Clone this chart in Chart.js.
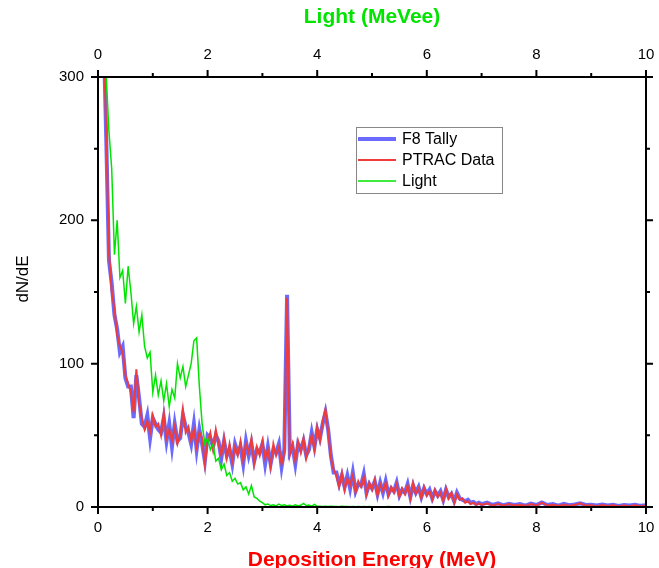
<!DOCTYPE html>
<html lang="en">
<head>
<meta charset="UTF-8">
<title>Deposition spectrum</title>
<script src="https://cdn.jsdelivr.net/npm/chart.js"></script>
<style>
  html, body { margin: 0; padding: 0; background: #fff; }
</style>
</head>
<body>
<canvas id="myChart" width="659" height="568"></canvas>
<script>
// bin centres (MeV for the two simulated series, MeVee for the light series)
const energy = [
  0.10,0.15,0.20,0.25,0.30,0.35,0.40,0.45,0.50,0.55,
  0.60,0.65,0.70,0.75,0.80,0.85,0.90,0.95,1.00,1.05,
  1.10,1.15,1.20,1.25,1.30,1.35,1.40,1.45,1.50,1.55,
  1.60,1.65,1.70,1.75,1.80,1.85,1.90,1.95,2.00,2.05,
  2.10,2.15,2.20,2.25,2.30,2.35,2.40,2.45,2.50,2.55,
  2.60,2.65,2.70,2.75,2.80,2.85,2.90,2.95,3.00,3.05,
  3.10,3.15,3.20,3.25,3.30,3.35,3.40,3.45,3.50,3.55,
  3.60,3.65,3.70,3.75,3.80,3.85,3.90,3.95,4.00,4.05,
  4.10,4.15,4.20,4.25,4.30,4.35,4.40,4.45,4.50,4.55,
  4.60,4.65,4.70,4.75,4.80,4.85,4.90,4.95,5.00,5.05,
  5.10,5.15,5.20,5.25,5.30,5.35,5.40,5.45,5.50,5.55,
  5.60,5.65,5.70,5.75,5.80,5.85,5.90,5.95,6.00,6.05,
  6.10,6.15,6.20,6.25,6.30,6.35,6.40,6.45,6.50,6.55,
  6.60,6.65,6.70,6.75,6.80,6.85,6.90,6.95,7.00,7.10,
  7.20,7.30,7.40,7.50,7.60,7.70,7.80,7.90,8.00,8.10,
  8.20,8.30,8.40,8.50,8.60,8.70,8.80,8.90,9.00,9.10,
  9.20,9.30,9.40,9.50,9.60,9.70,9.80,9.90,10.00
];

const f8Tally = [
  335,258,172,156,134,124,108,112,90,84,
  84,62,92,76,58,56,64,48,62,58,
  54,52,62,46,58,42,58,46,48,64,
  56,52,44,58,40,54,44,32,50,48,
  42,50,46,34,46,36,40,30,44,38,
  42,30,46,36,44,32,40,38,44,30,
  42,30,40,38,44,28,40,148,38,42,
  30,44,40,46,36,40,52,42,54,48,
  58,66,54,36,24,24,16,22,14,22,
  13,24,11,16,15,23,10,16,13,18,
  9,17,10,18,9,13,11,17,8,12,
  10,16,7,15,10,14,7,13,9,12,
  6,11,8,11,5,12,7,9,4,10,
  6,5,4,5,3,3.5,2,3,2,3,
  1.5,2.5,1.2,2.2,1.4,2,1,2.4,1.4,3.2,
  1.4,2,1,2.2,1.2,1.8,2.6,1.4,1.6,1,
  1.8,1,1.6,0.8,1.4,1,1.6,0.8,1.2
];

const ptracData = [
  330,262,178,150,138,120,112,108,92,86,
  80,66,96,72,62,54,60,52,64,56,
  58,50,66,48,54,46,56,44,50,68,
  52,56,46,54,42,52,48,30,46,52,
  40,54,44,36,48,34,44,32,42,36,
  46,32,44,38,48,30,42,36,46,34,
  40,28,44,36,42,30,38,146,36,44,
  32,46,38,48,34,42,50,40,56,46,
  60,68,52,34,26,22,14,24,12,20,
  15,22,10,18,14,21,9,17,12,19,
  8,16,11,17,8,14,10,16,7,13,
  9,15,6,17,9,13,6,14,8,11,
  5,12,7,10,4,13,6,10,3,9,
  5,6,3,4,2,3,1.5,2.5,1.5,2.5,
  1,2,1,2,1,1.5,0.8,2,1,3,
  1,1.5,0.8,1.8,0.8,1.5,2.5,1,1.2,0.6,
  1.4,0.7,1.2,0.5,1,0.6,1.2,0.5,0.8
];

const light = [
  340,300,262,236,176,200,160,165,142,168,
  150,128,140,122,134,112,104,108,80,92,
  78,88,74,86,70,82,76,100,90,98,
  84,92,100,116,118,84,58,44,48,40,
  44,32,34,26,30,22,24,18,20,16,
  17,12,14,9,15,7,6,4,3,1.5,
  2,1,1.5,0.8,2,1,1.5,0.8,1.2,0.6,
  1.5,0.8,1.2,2.5,1,1.4,0.6,1.8,0.5,0.6,
  0.4,0.5,0.3,0.6,0.3,0.4,0.2,0.5,0.3,0.4,
  0.2,0.3,0.2,0.4,0.2,0.3,0.1,0.3,0.2,0.2,
  0.2,0.1,0.2,0.1,0.3,0.1,0.2,0.1,0.2,0.1,
  0.1,0.2,0.1,0.1,0.2,0.1,0.1,0.2,0.1,0.1,
  0.1,0.1,0.2,0.1,0.1,0.1,0.2,0.1,0.1,0.1,
  0.1,0.1,0.1,0.2,0.1,0.1,0.1,0.1,0.1,0.1,
  0.1,0.1,0.1,0.1,0.1,0.1,0.1,0.1,0.1,0.1,
  0.1,0.1,0.1,0.1,0.1,0.1,0.1,0.1,0.1,0.1,
  0.1,0.1,0.1,0.1,0.1,0.1,0.1,0.1,0.1
];

const majorX = [0, 2, 4, 6, 8, 10];
const minorX = [1, 3, 5, 7, 9];
const majorY = [0, 100, 200, 300];
const minorY = [50, 150, 250];

const FONT = '"Liberation Sans", Arial, sans-serif';
Chart.defaults.font.family = FONT;
Chart.defaults.color = '#000';

function points(ys) {
  return energy.map((e, i) => ({ x: e, y: ys[i] }));
}

// frame, tick marks on all four sides, y title and the boxed legend
const framePlugin = {
  id: 'frame',
  afterDatasetsDraw(chart) {
    const { ctx, chartArea: a, scales } = chart;
    const xs = scales.x, ys = scales.y;
    ctx.save();
    ctx.strokeStyle = '#000';
    ctx.lineWidth = 2;
    ctx.strokeRect(a.left, a.top, a.right - a.left, a.bottom - a.top);

    ctx.beginPath();
    const xTick = (v, len) => {
      const p = xs.getPixelForValue(v);
      ctx.moveTo(p, a.bottom); ctx.lineTo(p, a.bottom + len);
      ctx.moveTo(p, a.top); ctx.lineTo(p, a.top - len);
    };
    const yTick = (v, len) => {
      const p = ys.getPixelForValue(v);
      ctx.moveTo(a.left, p); ctx.lineTo(a.left - len, p);
      ctx.moveTo(a.right, p); ctx.lineTo(a.right + len, p);
    };
    majorX.forEach(v => xTick(v, 7));
    minorX.forEach(v => xTick(v, 4));
    majorY.forEach(v => yTick(v, 7));
    minorY.forEach(v => yTick(v, 4));
    ctx.stroke();

    // y axis title
    ctx.save();
    ctx.translate(23, a.top + 202);
    ctx.rotate(-Math.PI / 2);
    ctx.fillStyle = '#000';
    ctx.font = '17px ' + FONT;
    ctx.textAlign = 'center';
    ctx.textBaseline = 'middle';
    ctx.fillText('dN/dE', 0, 0);
    ctx.restore();

    // legend
    const lx = a.left + 258, ly = a.top + 50;
    ctx.strokeStyle = '#888';
    ctx.lineWidth = 1;
    ctx.strokeRect(lx + 0.5, ly + 0.5, 146, 66);
    ctx.font = '16px ' + FONT;
    ctx.textAlign = 'left';
    ctx.textBaseline = 'middle';
    chart.data.datasets.forEach((ds, i) => {
      const ry = ly + 12 + i * 21;
      ctx.strokeStyle = ds.borderColor;
      ctx.lineWidth = ds.borderWidth;
      ctx.beginPath();
      ctx.moveTo(lx + 2, ry);
      ctx.lineTo(lx + 40, ry);
      ctx.stroke();
      ctx.fillStyle = '#000';
      ctx.fillText(ds.label, lx + 46, ry + 1);
    });
    ctx.restore();
  }
};

new Chart(document.getElementById('myChart'), {
  type: 'line',
  data: {
    datasets: [
      { label: 'F8 Tally', data: points(f8Tally), borderColor: '#6a6aff', borderWidth: 4, order: 3 },
      { label: 'PTRAC Data', data: points(ptracData), borderColor: '#ee3b3b', borderWidth: 2, order: 2 },
      { label: 'Light', data: points(light), borderColor: '#00e400', borderWidth: 1.5, order: 1, xAxisID: 'x2' }
    ]
  },
  options: {
    responsive: false,
    animation: false,
    devicePixelRatio: 1,
    layout: { padding: { left: 0, right: 13, top: 0, bottom: 0 } },
    elements: { point: { radius: 0 }, line: { tension: 0 } },
    plugins: { legend: { display: false }, tooltip: { enabled: false } },
    scales: {
      x: {
        type: 'linear', position: 'bottom', min: 0, max: 10,
        ticks: { stepSize: 2, padding: 12, maxRotation: 0, font: { size: 15 } },
        grid: { display: false, drawTicks: false },
        border: { display: false },
        title: {
          display: true, text: 'Deposition Energy (MeV)', color: '#ff0000',
          font: { size: 21, weight: 'bold' }, padding: { top: 0, bottom: -5 }
        },
        afterFit(s) { s.height = 61; s.paddingLeft = 0; s.paddingRight = 0; }
      },
      x2: {
        type: 'linear', position: 'top', min: 0, max: 10,
        ticks: { stepSize: 2, padding: 13, maxRotation: 0, font: { size: 15 } },
        grid: { display: false, drawTicks: false },
        border: { display: false },
        title: {
          display: true, text: 'Light (MeVee)', color: '#00e400',
          font: { size: 21, weight: 'bold' }, padding: { top: 5, bottom: 0 }
        },
        afterFit(s) { s.height = 77; s.paddingLeft = 0; s.paddingRight = 0; }
      },
      y: {
        type: 'linear', position: 'left', min: 0, max: 300,
        ticks: { stepSize: 100, padding: 14, font: { size: 15 } },
        grid: { display: false, drawTicks: false },
        border: { display: false },
        afterFit(s) { s.width = 98; s.paddingTop = 0; s.paddingBottom = 0; }
      }
    }
  },
  plugins: [framePlugin]
});
</script>
</body>
</html>
